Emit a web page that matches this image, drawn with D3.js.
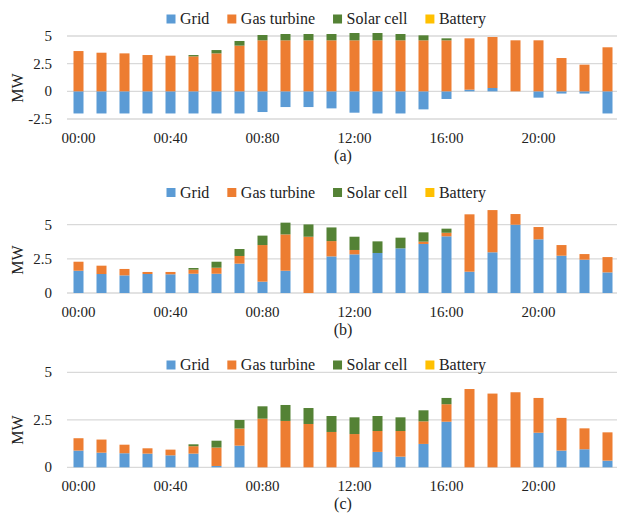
<!DOCTYPE html>
<html><head><meta charset="utf-8">
<script src="https://cdn.jsdelivr.net/npm/d3@7/dist/d3.min.js"></script>
<style>html,body{margin:0;padding:0;background:#fff;}svg{display:block;}
svg text{font-family:"Liberation Serif","Tinos","DejaVu Serif","Noto Serif","FreeSerif","Times New Roman",serif !important;}</style>
</head><body>
<script>
const categories = ["00:00","01:00","02:00","03:00","04:00","05:00","06:00","07:00","08:00","09:00","10:00","11:00",
  "12:00","13:00","14:00","15:00","16:00","17:00","18:00","19:00","20:00","21:00","22:00","23:00"];
const tickLabels = ["00:00","00:40","00:80","12:00","16:00","20:00"];
const seriesNames = ["Grid","Gas turbine","Solar cell","Battery"];
const colors = ["#5B9BD5","#ED7D31","#548235","#FFC000"];

// Panel (a)
const gridA  = [-2.0,-2.0,-2.0,-2.0,-2.0,-2.0,-2.0,-2.0,-1.87,-1.42,-1.42,-1.54,-1.93,-2.0,-2.0,-1.63,-0.69,0.15,0.3,0,-0.57,-0.2,-0.2,-2.0];
const gasA   = [3.64,3.49,3.43,3.28,3.22,3.16,3.43,4.13,4.61,4.61,4.61,4.61,4.61,4.61,4.61,4.61,4.61,4.64,4.61,4.61,4.61,3.01,2.41,3.98];
const solarA = [0,0,0,0,0,0.12,0.30,0.42,0.48,0.57,0.57,0.57,0.66,0.66,0.57,0.45,0.18,0,0,0,0,0,0,0];
const battA  = [0,0,0,0,0,0,0,0,0,0,0,0,0,0,0,0,0,0,0,0,0,0,0,0];
const ticksA = [-2.5,0,2.5,5];

// Panel (b)
const gridB  = [1.63,1.39,1.29,1.39,1.37,1.41,1.41,2.15,0.83,1.63,0,2.68,2.83,2.93,3.27,3.59,4.15,1.56,2.98,5.0,3.93,2.73,2.44,1.51];
const gasB   = [0.66,0.61,0.47,0.15,0.17,0.30,0.44,0.56,2.68,2.66,4.12,1.12,0.32,0,0,0.17,0.26,4.2,3.09,0.78,0.9,0.78,0.41,1.12];
const solarB = [0,0,0,0,0,0.12,0.44,0.51,0.69,0.86,0.90,1.0,0.97,0.85,0.78,0.68,0.30,0,0,0,0,0,0,0];
const battB  = [0,0,0,0,0,0,0,0,0,0,0,0,0,0,0,0,0,0,0,0,0,0,0,0];
const ticksB = [0,2.5,5];

// Panel (c)
const gridC  = [0.88,0.77,0.74,0.72,0.63,0.72,0.07,1.14,0,0,0,0,0,0.81,0.56,1.23,2.40,0,0,0,1.82,0.88,0.95,0.35];
const gasC   = [0.65,0.69,0.45,0.28,0.30,0.39,0.97,0.90,2.56,2.44,2.28,1.86,1.75,1.10,1.35,1.19,0.92,4.12,3.88,3.95,1.83,1.72,1.10,1.49];
const solarC = [0,0,0,0,0,0.10,0.36,0.45,0.65,0.84,0.84,0.84,0.88,0.79,0.72,0.58,0.33,0,0,0,0,0,0,0];
const battC  = [0,0,0,0,0,0,0,0,0,0,0,0,0,0,0,0,0,0,0,0,0,0,0,0];
const ticksC = [0,2.5,5];

const W = 617, H = 516;
const FONT = "'Liberation Serif','Tinos','DejaVu Serif','Noto Serif','FreeSerif','Times New Roman',serif";
const svg = d3.select("body").append("svg").attr("width", W).attr("height", H)
  .attr("font-family", FONT);

const panels = [
  {series:[gridA,gasA,solarA,battA], ticks:ticksA, domain:[-2.5,5], range:[119,36], legendY:19, mwY:88, caption:"(a)"},
  {series:[gridB,gasB,solarB,battB], ticks:ticksB, domain:[0,5], range:[293,224.7], legendY:192.5, mwY:260, caption:"(b)"},
  {series:[gridC,gasC,solarC,battC], ticks:ticksC, domain:[0,5], range:[467.3,372.3], legendY:365, mwY:430, caption:"(c)"}
];

const x = d3.scaleBand().domain(categories).range([67, 619])
  .paddingInner(13/23).paddingOuter(6.5/23);

panels.forEach(p => {
  const g = svg.append("g");
  const y = d3.scaleLinear().domain(p.domain).range(p.range);
  const bottom = p.range[0];

  g.append("g").selectAll("line").data(p.ticks).join("line")
    .attr("x1", 67).attr("x2", W)
    .attr("y1", d => y(d)).attr("y2", d => y(d))
    .attr("stroke", "#d9d9d9").attr("stroke-width", 1.3);

  g.append("g").selectAll("text").data(p.ticks).join("text")
    .attr("x", 52).attr("y", d => y(d) + 5)
    .attr("text-anchor", "end").attr("font-size", 15).attr("fill", "#222")
    .attr("font-family", FONT)
    .text(d => String(d));

  g.append("text").attr("transform", `translate(23,${p.mwY}) rotate(-90)`)
    .attr("text-anchor", "middle").attr("font-size", 16).attr("fill", "#222")
    .attr("font-family", FONT).text("MW");

  const rows = categories.map((c, i) => {
    const r = {cat: c};
    seriesNames.forEach((s, k) => r[s] = p.series[k][i]);
    return r;
  });
  const stacked = d3.stack().keys(seriesNames).offset(d3.stackOffsetDiverging)(rows);
  g.append("g").selectAll("g").data(stacked).join("g")
    .attr("fill", (d, k) => colors[k])
    .selectAll("rect").data(d => d).join("rect")
    .attr("x", d => x(d.data.cat))
    .attr("width", x.bandwidth())
    .attr("y", d => Math.min(y(d[0]), y(d[1])))
    .attr("height", d => Math.abs(y(d[0]) - y(d[1])));

  const xAxis = d3.axisBottom(x)
    .tickValues(categories.filter((c, i) => i % 4 === 0))
    .tickFormat((c) => tickLabels[categories.indexOf(c) / 4])
    .tickSize(0).tickPadding(0);
  const ax = g.append("g").attr("transform", `translate(0,${bottom + 13})`).call(xAxis);
  ax.attr("font-family", FONT);
  ax.select(".domain").remove();
  ax.selectAll("text").attr("font-size", 15).attr("fill", "#222").attr("font-family", FONT);

  g.append("text").attr("x", 343).attr("y", bottom + 42)
    .attr("text-anchor", "middle").attr("font-size", 16).attr("fill", "#222")
    .attr("font-family", FONT).text(p.caption);

  const lg = g.append("g");
  let lx = 166.5;
  seriesNames.forEach((s, k) => {
    lg.append("rect").attr("x", lx).attr("y", p.legendY - 4.5).attr("width", 9).attr("height", 9).attr("fill", colors[k]);
    const t = lg.append("text").attr("x", lx + 13.5).attr("y", p.legendY + 5)
      .attr("font-size", 16).attr("fill", "#222").attr("font-family", FONT).text(s);
    lx += 13.5 + t.node().getComputedTextLength() + 18;
  });
});
</script>
</body></html>
